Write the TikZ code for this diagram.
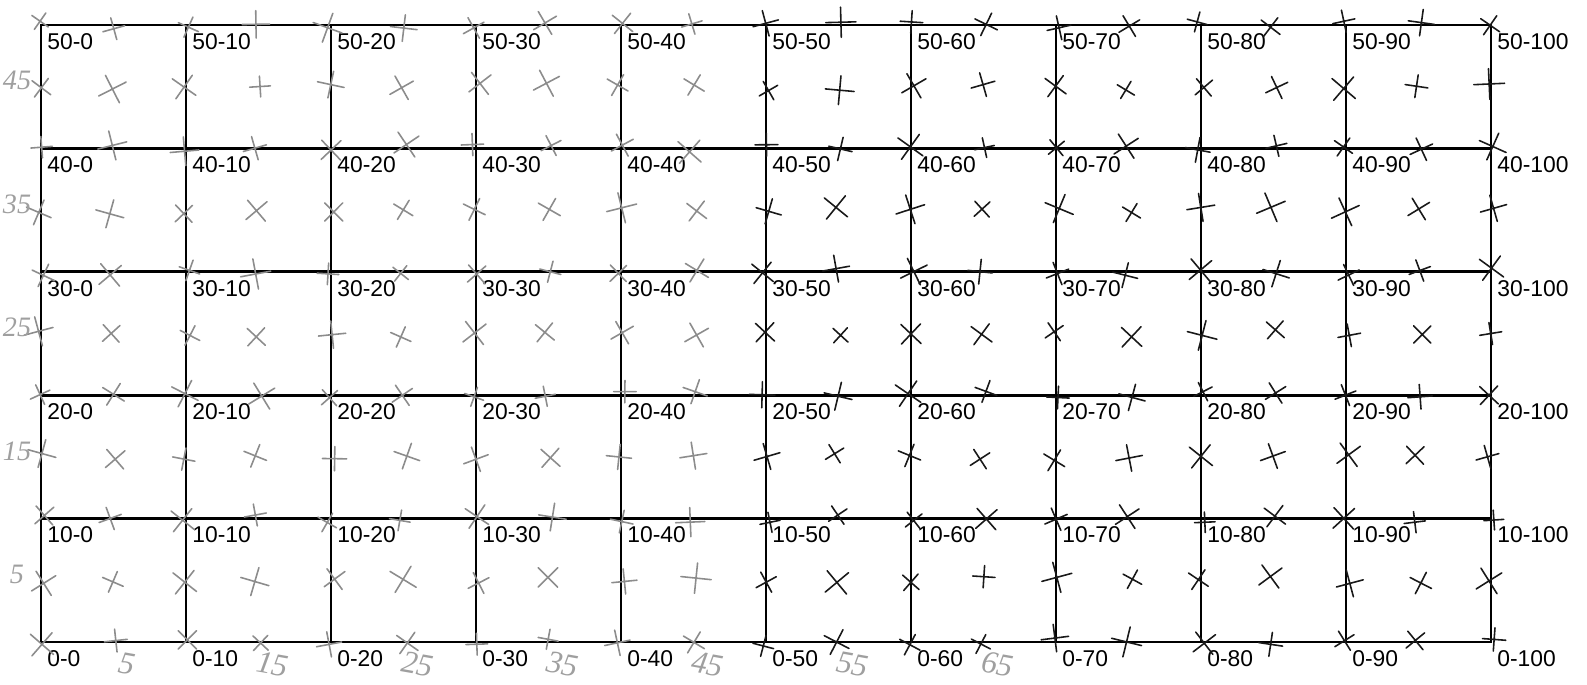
\documentclass[tikz,border=0pt]{standalone}
\usepackage{fontspec}
\setmainfont{Liberation Sans}
\newfontfamily\handfont{Liberation Serif}

\begin{document}
\begin{tikzpicture}[x=0.02cm, y=0.02cm,
  gridline/.style={line width=1.6pt, line cap=rect},
  cornerlabel/.style={anchor=north west, inner sep=0pt, font=\fontsize{13}{15}\selectfont},
  pencil/.style={line width=0.9pt, line cap=round},
  handnum/.style={font=\handfont\itshape\fontsize{18}{20}\selectfont, text=gray!75, inner sep=0pt}]

  % 参数：网格原点、格宽、格高
  \pgfmathsetmacro{\xo}{41}
  \pgfmathsetmacro{\yo}{42}
  \pgfmathsetmacro{\cw}{145}
  \pgfmathsetmacro{\rh}{123.4}

  \useasboundingbox (0,0) rectangle (1587,684);

  % 网格线
  \foreach \c in {0,...,10}
    \draw[gridline] (\xo+\c*\cw, \yo) -- (\xo+\c*\cw, \yo+5*\rh);
  \foreach \r in {0,...,5}
    \draw[gridline] (\xo, \yo+\r*\rh) -- (\xo+10*\cw, \yo+\r*\rh);

  % ---- 交点标注 ----
  \foreach \r in {0,...,5}
    \foreach \c in {0,...,10} {
      \pgfmathtruncatemacro{\rv}{\r*10}
      \pgfmathtruncatemacro{\cv}{\c*10}
      \node[cornerlabel] (lab-\rv-\cv) at (\xo+\c*\cw+6, \yo+\r*\rh-8) {\rv-\cv};
    }

  % ---- 手画记号（左半铅笔，右半墨水） ----
  \pgfmathsetseed{42}
  \foreach \i in {0,...,20}
    \foreach \j in {0,...,10} {
      \pgfmathsetmacro{\mx}{\xo+\i*\cw/2+rand*4}
      \pgfmathsetmacro{\my}{\yo+\j*\rh/2+rand*4}
      \pgfmathsetmacro{\ma}{rand*45}
      \pgfmathsetmacro{\ms}{7+rnd*4}
      \pgfmathtruncatemacro{\mk}{\i<10 ? 45 : 90}
      \draw[pencil, black!\mk, rotate around={\ma:(\mx,\my)}]
        (\mx-\ms,\my-\ms) -- (\mx+\ms,\my+\ms)
        (\mx-\ms,\my+\ms) -- (\mx+\ms,\my-\ms);
    }

  % ---- 手写数字 ----
  % 左边：行中点
  \foreach \n [count=\k from 0] in {5,15,25,35,45}
    \node[handnum, font=\handfont\itshape\fontsize{16}{18}\selectfont] (hl-\n) at (17, \yo+\k*\rh+\rh/2+6) {\n};
  % 下边：列中点
  \foreach \n [count=\k from 0] in {5,15,25,35,45,55,65}
    \node[handnum, rotate=-10] (hb-\n) at (\xo+\k*\cw+\cw/2+14, 20) {\n};

\end{tikzpicture}
\end{document}
